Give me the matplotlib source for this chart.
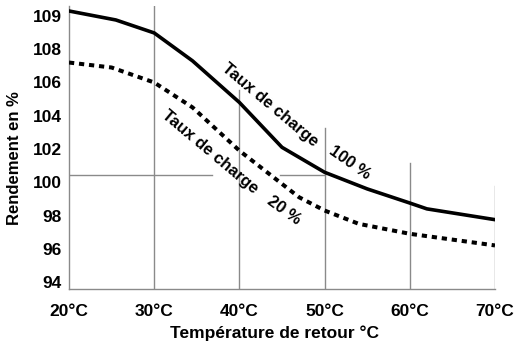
import numpy as np
import matplotlib
matplotlib.use("Agg")
import matplotlib.pyplot as plt

# readings
temps_100 = [20, 25.5, 30, 34.5, 40, 45, 50, 55, 60, 62, 70]
rend_100 = [109.15, 108.88, 108.49, 107.3, 104.8, 102.1, 100.6, 99.6, 98.75, 98.4, 97.75]
temps_20 = [20, 25, 30, 34.5, 40, 44.5, 47, 50, 54, 60, 70]
rend_20 = [107.2, 106.9, 106.0, 104.5, 101.9, 100.1, 99.1, 98.3, 97.5, 96.9, 96.2]
x_ticks = [20, 30, 40, 50, 60, 70]
x_labels = ["20°C", "30°C", "40°C", "50°C", "60°C", "70°C"]
y_ticks = [94, 96, 98, 100, 102, 104, 106, 108, 109]

plt.rcParams["font.family"] = ["Liberation Sans", "DejaVu Sans"]


# the axis stretches the 108-109 step to look like a 2-unit step
def fwd(v):
    v = np.asarray(v, dtype=float)
    return np.where(v <= 108, v, 108 + 2 * (v - 108))


def inv(u):
    u = np.asarray(u, dtype=float)
    return np.where(u <= 108, u, 108 + (u - 108) / 2)


fig = plt.figure(figsize=(5.26, 3.53), dpi=100)
ax = fig.add_axes([69 / 526, 64 / 353, 426 / 526, 283 / 353])
ax.set_yscale("function", functions=(fwd, inv))
ax.set_xlim(20, 70)
ax.set_ylim(93.58, 109.3)

grid = dict(color="#8a8a8a", lw=1.0, zorder=1)
ax.plot([30, 30], [93.58, 109.3], **grid)
ax.plot([40, 40], [93.58, 105.55], **grid)
ax.plot([50, 50], [93.58, 103.26], **grid)
ax.plot([60, 60], [93.58, 101.16], **grid)
ax.plot([70, 70], [93.58, 99.77], **grid)
ax.plot([20, 36.8], [100.44, 100.44], **grid)
ax.plot([44.8, 50], [100.44, 100.44], **grid)

ax.plot(temps_100, rend_100, color="black", lw=2.6, zorder=3,
        solid_joinstyle="round")
ax.plot(temps_20, rend_20, color="black", lw=2.9, zorder=3,
        linestyle=(0, (1.3, 1.2)))

tk = dict(ha="center", va="center", rotation_mode="anchor",
          fontsize=12, fontweight="bold", zorder=4)
ax.text(43.6, 104.65, "Taux de charge", rotation=-40, **tk)
ax.text(52.9, 101.16, "100 %", rotation=-35, **tk)
ax.text(36.55, 101.82, "Taux de charge", rotation=-40, **tk)
ax.text(45.2, 98.33, "20 %", rotation=-36, **tk)

for s in ["top", "right"]:
    ax.spines[s].set_visible(False)
for s in ["left", "bottom"]:
    ax.spines[s].set_color("#8a8a8a")
    ax.spines[s].set_linewidth(1.0)

ax.set_xticks(x_ticks)
ax.set_xticklabels(x_labels, fontsize=12.5, fontweight="bold")
ax.set_yticks(y_ticks)
ax.set_yticklabels([str(t) for t in y_ticks], fontsize=12.5,
                   fontweight="bold")
ax.yaxis.set_minor_locator(matplotlib.ticker.NullLocator())
ax.tick_params(axis="x", length=0, pad=10.5)
ax.tick_params(axis="y", length=0, pad=5)

ax.set_xlabel("Température de retour °C", fontsize=12.5, fontweight="bold")
ax.xaxis.set_label_coords((274 - 69) / 426, -0.13)
ax.set_ylabel("Rendement en %", fontsize=12, fontweight="bold")
ax.yaxis.set_label_coords(-0.11, 0.463)

fig.savefig("out.png", dpi=100)
